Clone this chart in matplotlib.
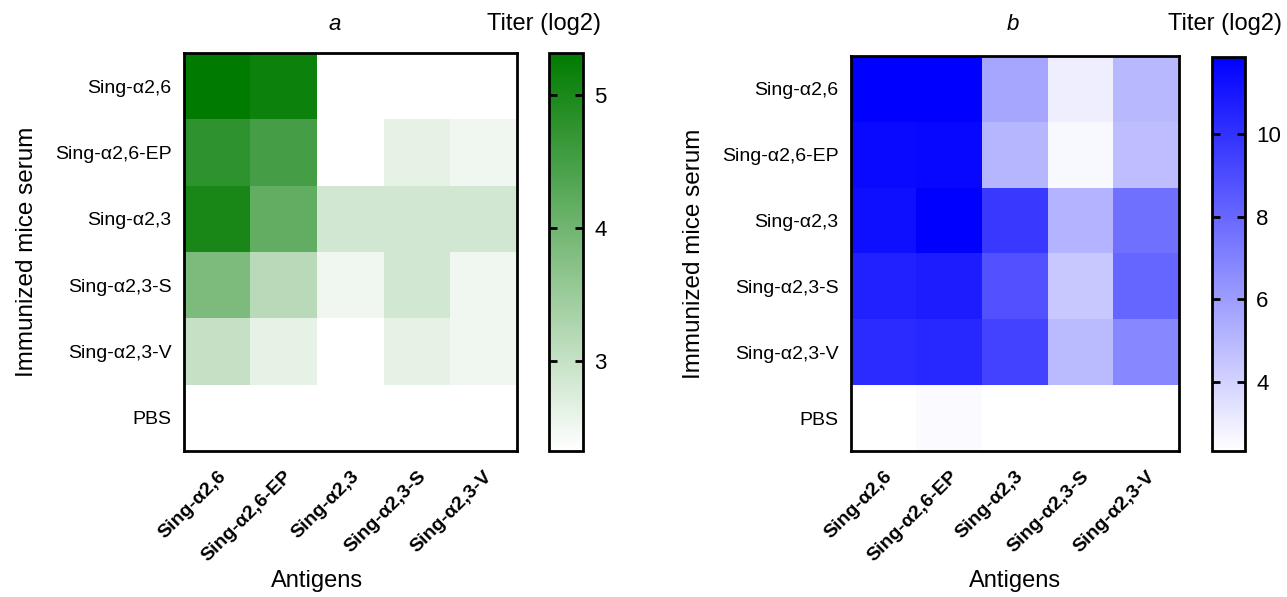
import matplotlib

matplotlib.use("Agg")
import matplotlib.pyplot as plt
import numpy as np
from matplotlib.colors import LinearSegmentedColormap

plt.rcParams["font.family"] = ["Liberation Sans", "DejaVu Sans"]

# Row (serum) and column (antigen) labels.
sera = [
    "Sing-α2,6",
    "Sing-α2,6-EP",
    "Sing-α2,3",
    "Sing-α2,3-S",
    "Sing-α2,3-V",
    "PBS",
]
antigens = [
    "Sing-α2,6",
    "Sing-α2,6-EP",
    "Sing-α2,3",
    "Sing-α2,3-S",
    "Sing-α2,3-V",
]

# Panel a titers (log2), rows = sera, columns = antigens.
titer_a = [
    [5.32, 5.17, 2.32, 2.32, 2.32],
    [4.78, 4.50, 2.32, 2.62, 2.50],
    [5.02, 4.18, 2.86, 2.86, 2.86],
    [3.85, 3.16, 2.50, 2.86, 2.50],
    [3.00, 2.62, 2.32, 2.62, 2.50],
    [2.32, 2.32, 2.32, 2.32, 2.32],
]
# Panel b titers (log2).
titer_b = [
    [11.87, 11.87, 5.66, 2.99, 4.99],
    [11.47, 11.60, 5.08, 2.60, 4.80],
    [11.28, 11.80, 9.75, 5.18, 7.66],
    [10.60, 10.80, 8.80, 4.40, 8.10],
    [10.23, 10.40, 9.37, 4.90, 6.80],
    [2.32, 2.50, 2.32, 2.32, 2.32],
]
range_a = (2.32, 5.32)
range_b = (2.32, 11.87)
ticks_a = [3, 4, 5]
ticks_b = [4, 6, 8, 10]

W, H = 1287, 597


def px_axes(fig, x0, y0, x1, y1):
    # Place an axes from pixel coordinates measured from the top-left corner.
    return fig.add_axes([x0 / W, 1 - y1 / H, (x1 - x0) / W, (y1 - y0) / H])


def draw_panel(fig, box, cbox, data, cmap, vrange, ticks, title, title_x, titer_x, xlab_x):
    ax = px_axes(fig, *box)
    cax = px_axes(fig, *cbox)
    im = ax.imshow(
        np.array(data), cmap=cmap, vmin=vrange[0], vmax=vrange[1], aspect="auto"
    )
    ax.set_xticks(range(len(antigens)))
    ax.set_xticklabels(
        antigens,
        rotation=45,
        ha="right",
        rotation_mode="anchor",
        fontsize=14,
        fontweight="bold",
    )
    ax.set_yticks(range(len(sera)))
    ax.set_yticklabels(sera, fontsize=14)
    ax.tick_params(length=0, pad=9)
    ax.tick_params(axis="x", pad=12)
    for s in ax.spines.values():
        s.set_linewidth(2)
    ax.set_xlabel("Antigens", fontsize=17)
    ax.xaxis.set_label_coords(xlab_x, -0.30)
    ax.set_ylabel("Immunized mice serum", fontsize=17.5, labelpad=12)

    cb = fig.colorbar(im, cax=cax, ticks=ticks)
    cb.outline.set_linewidth(2)
    cax.tick_params(
        direction="in", left=True, right=True, length=6, width=2, labelsize=16, pad=8
    )

    fig.text(title_x / W, 1 - 24 / H, title, fontsize=16, style="italic", ha="center", va="center")
    fig.text(titer_x / W, 1 - 24 / H, "Titer (log2)", fontsize=17, ha="center", va="center")
    return ax


fig = plt.figure(figsize=(W / 100, H / 100), dpi=100)

green = LinearSegmentedColormap.from_list("wg", ["#FFFFFF", "#007B00"])
blue = LinearSegmentedColormap.from_list("wb", ["#FFFFFF", "#0000FF"])

draw_panel(fig, (184, 53, 517, 451), (549, 53, 583, 451), titer_a, green,
           range_a, ticks_a, "a", 335, 544, 0.4)
draw_panel(fig, (851, 56, 1179, 451), (1212, 57, 1245, 451), titer_b, blue,
           range_b, ticks_b, "b", 1013, 1225, 0.5)

fig.savefig("out.png", dpi=100)
